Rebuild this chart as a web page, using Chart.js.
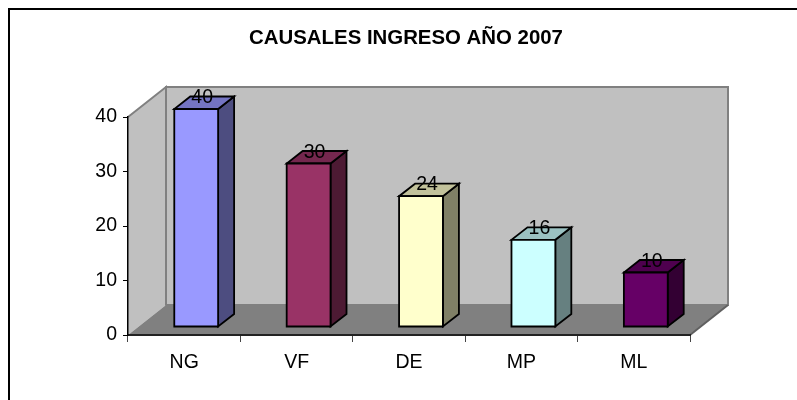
<!DOCTYPE html>
<html>
<head>
<meta charset="utf-8">
<title>Causales ingreso año 2007</title>
<script src="https://cdn.jsdelivr.net/npm/chart.js@4.4.1/dist/chart.umd.min.js"></script>
<style>
  html, body { margin: 0; padding: 0; background: #fff; }
  #wrap { width: 797px; height: 400px; }
</style>
</head>
<body>
<div id="wrap"><canvas id="chart" width="797" height="400"></canvas></div>
<script>
'use strict';

// Values:
var categories = ['NG', 'VF', 'DE', 'MP', 'ML'];
var values = [40, 30, 24, 16, 10];
var yTicks = [0, 10, 20, 30, 40];
var titleText = 'CAUSALES INGRESO AÑO 2007';

// Colours of the front faces (side and top are shaded from them):
var barColors = ['#9999FF', '#993366', '#FFFFCC', '#CCFFFF', '#660066'];

var FONT = "'Liberation Sans', Arial, sans-serif";

// 3D depth of the walls and the bars, in px:
var WALL_DX = 38, WALL_DY = -30;
var BAR_OX = 12, BAR_OY = -8;
var BAR_DX = 16, BAR_DY = -12.5;

// Helper to darken a hex colour by a factor:
var shade = function shade(hex, f) {
    var n = parseInt(hex.slice(1), 16);
    var r = Math.round(((n >> 16) & 255) * f);
    var g = Math.round(((n >> 8) & 255) * f);
    var b = Math.round((n & 255) * f);
    return 'rgb(' + r + ',' + g + ',' + b + ')';
};

var poly = function poly(ctx, pts) {
    ctx.beginPath();
    ctx.moveTo(pts[0][0], pts[0][1]);
    for (var i = 1; i < pts.length; i++) {
        ctx.lineTo(pts[i][0], pts[i][1]);
    }
    ctx.closePath();
};

// Frame, title, back wall, left wall and floor:
var walls3d = {
    id: 'walls3d',
    beforeDraw: function (chart) {
        var ctx = chart.ctx;
        var a = chart.chartArea;
        ctx.save();

        ctx.strokeStyle = '#000';
        ctx.lineWidth = 2;
        ctx.strokeRect(9, 9, chart.width + 10, chart.height + 10);

        ctx.fillStyle = '#000';
        ctx.font = 'bold 20.4px ' + FONT;
        ctx.textAlign = 'center';
        ctx.textBaseline = 'alphabetic';
        ctx.fillText(titleText, 406, 44);

        ctx.lineJoin = 'miter';
        // back wall
        ctx.fillStyle = '#C0C0C0';
        ctx.strokeStyle = '#808080';
        ctx.lineWidth = 2;
        poly(ctx, [[a.left + WALL_DX, a.top + WALL_DY], [a.right + WALL_DX, a.top + WALL_DY],
            [a.right + WALL_DX, a.bottom + WALL_DY], [a.left + WALL_DX, a.bottom + WALL_DY]]);
        ctx.fill();
        ctx.stroke();

        // left wall
        poly(ctx, [[a.left, a.top], [a.left + WALL_DX, a.top + WALL_DY],
            [a.left + WALL_DX, a.bottom + WALL_DY], [a.left, a.bottom]]);
        ctx.fill();
        ctx.beginPath();
        ctx.moveTo(a.left, a.top);
        ctx.lineTo(a.left + WALL_DX, a.top + WALL_DY);
        ctx.lineTo(a.left + WALL_DX, a.bottom + WALL_DY);
        ctx.stroke();

        // floor
        ctx.fillStyle = '#808080';
        poly(ctx, [[a.left, a.bottom], [a.right, a.bottom],
            [a.right + WALL_DX, a.bottom + WALL_DY], [a.left + WALL_DX, a.bottom + WALL_DY]]);
        ctx.fill();
        ctx.beginPath();
        ctx.moveTo(a.right, a.bottom);
        ctx.lineTo(a.right + WALL_DX, a.bottom + WALL_DY);
        ctx.strokeStyle = '#606060';
        ctx.stroke();

        ctx.restore();
    }
};

// 3D bars and value labels, placed from the bar elements:
var bars3d = {
    id: 'bars3d',
    afterDatasetsDraw: function (chart) {
        var ctx = chart.ctx;
        var meta = chart.getDatasetMeta(0);
        ctx.save();
        ctx.lineWidth = 1.8;
        ctx.strokeStyle = '#000';
        ctx.lineJoin = 'miter';
        meta.data.forEach(function (bar, i) {
            var p = bar.getProps(['x', 'y', 'base', 'width'], true);
            var l = p.x - p.width / 2 + BAR_OX;
            var r = l + p.width;
            var t = p.y + BAR_OY;
            var b = p.base + BAR_OY;
            var c = barColors[i];

            // side
            ctx.fillStyle = shade(c, 0.5);
            poly(ctx, [[r, t], [r + BAR_DX, t + BAR_DY], [r + BAR_DX, b + BAR_DY], [r, b]]);
            ctx.fill();
            ctx.stroke();
            // top
            ctx.fillStyle = shade(c, 0.76);
            poly(ctx, [[l, t], [r, t], [r + BAR_DX, t + BAR_DY], [l + BAR_DX, t + BAR_DY]]);
            ctx.fill();
            ctx.stroke();
            // front
            ctx.fillStyle = c;
            poly(ctx, [[l, t], [r, t], [r, b], [l, b]]);
            ctx.fill();
            ctx.stroke();

            // value label
            ctx.fillStyle = '#000';
            ctx.font = '19.5px ' + FONT;
            ctx.textAlign = 'center';
            ctx.textBaseline = 'alphabetic';
            ctx.fillText(String(values[i]), (l + r) / 2 + 6, t - 6);
        });
        ctx.restore();
    }
};

Chart.defaults.color = '#000';

var ctx = document.getElementById('chart').getContext('2d');
var chart = new Chart(ctx, {
    type: 'bar',
    data: {
        labels: categories,
        datasets: [{
            data: values,
            backgroundColor: 'rgba(0,0,0,0)',
            borderWidth: 0,
            categoryPercentage: 1,
            barPercentage: 0.39
        }]
    },
    options: {
        responsive: false,
        animation: false,
        layout: {
            padding: { top: 117, right: 107, bottom: 0, left: 0 }
        },
        plugins: {
            legend: { display: false },
            tooltip: { enabled: false },
            title: { display: false }
        },
        scales: {
            x: {
                grid: { offset: true, drawOnChartArea: false, tickLength: 7, color: '#444', lineWidth: 1 },
                border: { color: '#222', width: 2 },
                ticks: { font: { family: FONT, size: 19.5 }, color: '#000', padding: 9 },
                afterFit: function (s) { s.height = 65; }
            },
            y: {
                min: 0,
                max: 40,
                grid: { drawOnChartArea: false, tickLength: 5, color: '#000', lineWidth: 1 },
                border: { color: '#000', width: 1.5 },
                ticks: { font: { family: FONT, size: 19.5 }, color: '#000', padding: 6 },
                afterBuildTicks: function (s) {
                    s.ticks = yTicks.map(function (v) { return { value: v }; });
                },
                afterFit: function (s) { s.width = 128; }
            }
        }
    },
    plugins: [walls3d, bars3d]
});
</script>
</body>
</html>
